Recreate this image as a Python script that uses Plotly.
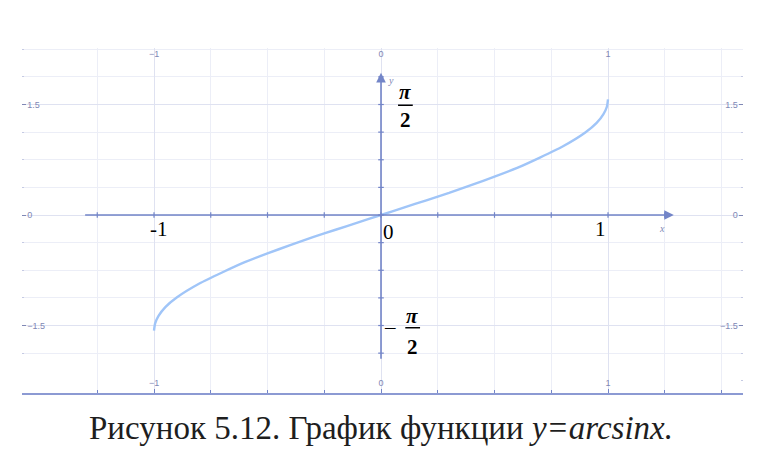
import numpy as np
import plotly.graph_objects as go

# Values (curve y = arcsin x)
x_vals = [-1.0, -0.995, -0.98, -0.95, -0.9, -0.8, -0.7, -0.6, -0.5, -0.4, -0.3, -0.2, -0.1,
          0.0, 0.1, 0.2, 0.3, 0.4, 0.5, 0.6, 0.7, 0.8, 0.9, 0.95, 0.98, 0.995, 1.0]
y_vals = [-1.57, -1.47, -1.37, -1.25, -1.12, -0.93, -0.78, -0.64, -0.52, -0.41, -0.30, -0.20, -0.10,
          0.0, 0.10, 0.20, 0.30, 0.41, 0.52, 0.64, 0.78, 0.93, 1.12, 1.25, 1.37, 1.47, 1.57]

x_ticks = [-1, 0, 1]
x_ticktext = ["\u22121", "0", "1"]
y_ticks = [-1.5, 0, 1.5]
y_ticktext = ["\u22121.5", "0", "1.5"]

caption = "Рисунок 5.12. График функции <i>y=arcsinx.</i>"

X_RANGE = [-1.5815, 1.5947]
Y_RANGE = [-2.416, 2.267]

GRID = "#eceef7"
GRID_MAJ = "#dfe2f1"
AXIS = "#7385c8"
TICKLBL = "#8088b5"
CURVE = "#a0c5f8"
SERIF = "Liberation Serif, Times New Roman, DejaVu Serif, serif"

fig = go.Figure()

fig.add_trace(go.Scatter(x=x_vals, y=y_vals, mode="lines",
                         line=dict(color=CURVE, width=2.4, shape="spline", smoothing=0.6),
                         hoverinfo="skip", showlegend=False))
# invisible trace to activate secondary axes
fig.add_trace(go.Scatter(x=x_vals, y=y_vals, mode="lines", xaxis="x2", yaxis="y2",
                         line=dict(width=0, color="rgba(0,0,0,0)"),
                         hoverinfo="skip", showlegend=False))

# small tick marks along the drawn coordinate axes
xt = np.arange(-1.25, 1.26, 0.25)
yt = np.arange(-1.875, 1.876, 0.375)
fig.add_trace(go.Scatter(x=xt, y=np.zeros_like(xt), mode="markers",
                         marker=dict(symbol="line-ns", size=4, line=dict(color=AXIS, width=1.2)),
                         hoverinfo="skip", showlegend=False))
fig.add_trace(go.Scatter(x=np.zeros_like(yt), y=yt, mode="markers",
                         marker=dict(symbol="line-ew", size=4, line=dict(color=AXIS, width=1.2)),
                         hoverinfo="skip", showlegend=False))

tickfont = dict(family="Liberation Sans, Arial", size=9, color=TICKLBL)

common_x = dict(range=X_RANGE, tickvals=x_ticks, ticktext=x_ticktext, tickfont=tickfont,
                zeroline=False, fixedrange=True)
common_y = dict(range=Y_RANGE, tickvals=y_ticks, ticktext=y_ticktext, tickfont=tickfont,
                zeroline=False, fixedrange=True)

fig.update_layout(
    width=770, height=476,
    margin=dict(l=14, r=35, t=40, b=91),
    paper_bgcolor="white", plot_bgcolor="white",
    showlegend=False,
    xaxis=dict(**common_x, showgrid=True, gridcolor=GRID_MAJ, gridwidth=1,
               showline=True, linecolor="#8c9ad3", linewidth=2,
               ticks="inside", ticklen=4, tickcolor=AXIS, ticklabelposition="inside",
               minor=dict(dtick=0.25, tick0=0, showgrid=True, gridcolor=GRID,
                          ticks="inside", ticklen=3, tickcolor=AXIS)),
    xaxis2=dict(**common_x, overlaying="x", side="top", showgrid=False, showline=False,
                ticks="", ticklabelposition="inside"),
    yaxis=dict(**common_y, showgrid=True, gridcolor=GRID_MAJ, gridwidth=1, showline=False,
               ticks="inside", ticklen=4, tickcolor=TICKLBL, ticklabelposition="inside",
               minor=dict(dtick=0.375, tick0=0, showgrid=True, gridcolor=GRID,
                          ticks="inside", ticklen=2, tickcolor="#c5cae3")),
    yaxis2=dict(**common_y, overlaying="y", side="right", showgrid=False, showline=False,
                ticks="inside", ticklen=4, tickcolor=TICKLBL, ticklabelposition="inside",
                minor=dict(dtick=0.375, tick0=0, ticks="inside", ticklen=2, tickcolor="#c5cae3")),
)

# coordinate axes with arrows
fig.add_annotation(x=1.29, y=0, ax=-1.31, ay=0, xref="x", yref="y", axref="x", ayref="y",
                   showarrow=True, arrowhead=2, arrowsize=1.2, arrowwidth=1.6, arrowcolor=AXIS, text="")
fig.add_annotation(x=0, y=1.93, ax=0, ay=-1.97, xref="x", yref="y", axref="x", ayref="y",
                   showarrow=True, arrowhead=2, arrowsize=1.2, arrowwidth=1.6, arrowcolor=AXIS, text="")

# small axis names
fig.add_annotation(x=0.02, y=1.83, text="<i>y</i>", showarrow=False, xanchor="left",
                   font=dict(family=SERIF, size=10, color=TICKLBL))
fig.add_annotation(x=1.24, y=-0.18, text="<i>x</i>", showarrow=False, xanchor="center",
                   font=dict(family=SERIF, size=10, color=TICKLBL))

serif = dict(family=SERIF, size=21, color="black")

fig.add_annotation(x=-0.98, y=-0.19, text="-1", showarrow=False, font=serif)
fig.add_annotation(x=0.035, y=-0.23, text="0", showarrow=False, font=serif)
fig.add_annotation(x=0.965, y=-0.19, text="1", showarrow=False, font=serif)

# pi/2
fig.add_annotation(x=0.106, y=1.67, text="<b><i>π</i></b>", showarrow=False, font=serif)
fig.add_shape(type="line", x0=0.075, x1=0.14, y0=1.49, y1=1.49, line=dict(color="black", width=1.5))
fig.add_annotation(x=0.106, y=1.29, text="<b>2</b>", showarrow=False, font=serif)

# -pi/2
fig.add_annotation(x=0.04, y=-1.52, text="\u2013", showarrow=False, font=serif)
fig.add_annotation(x=0.138, y=-1.37, text="<b><i>π</i></b>", showarrow=False, font=serif)
fig.add_shape(type="line", x0=0.107, x1=0.172, y0=-1.53, y1=-1.53, line=dict(color="black", width=1.5))
fig.add_annotation(x=0.138, y=-1.79, text="<b>2</b>", showarrow=False, font=serif)

# caption
fig.add_annotation(xref="paper", yref="paper", x=0.498, y=-0.10, xanchor="center", yanchor="middle",
                   text=caption, showarrow=False,
                   font=dict(family=SERIF, size=33, color="#1e1e1e"))

fig.write_html("out.html")
